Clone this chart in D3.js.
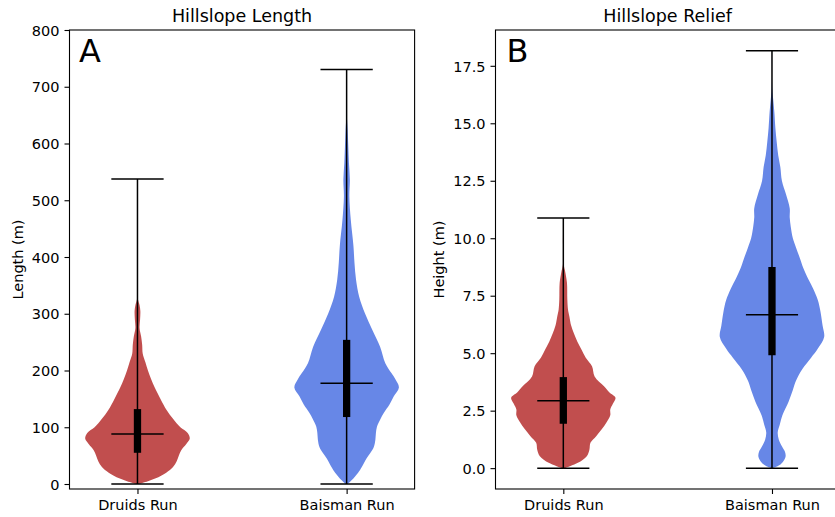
<!DOCTYPE html>
<html>
<head>
<meta charset="utf-8">
<script src="https://cdn.jsdelivr.net/npm/d3@7"></script>
<style>
  body { margin: 0; background: #fff; }
  svg { display: block; font-family: "DejaVu Sans", sans-serif; }
</style>
</head>
<body>
<svg id="chart"></svg>
<script>
// two violin panels
const groups = ["Druids Run", "Baisman Run"];
const colors = ["#c14e4e", "#6787e7"];

// [value, relative density]
const lengthDruids = [[0,0.02],[5,0.2],[10,0.35],[20,0.55],[30,0.68],[40,0.75],[50,0.79],[60,0.84],[70,0.93],[80,1.0],[90,0.96],[100,0.82],[115,0.68],[130,0.56],[150,0.44],[170,0.33],[185,0.26],[200,0.2],[215,0.15],[230,0.1],[245,0.09],[260,0.07],[275,0.04],[290,0.05],[305,0.055],[315,0.04],[325,0.01],[345,0.003],[537,0]];
const lengthBaisman = [[0,0.02],[7,0.1],[20,0.22],[30,0.29],[45,0.38],[54,0.45],[65,0.52],[78,0.55],[90,0.56],[101,0.58],[115,0.65],[125,0.71],[140,0.82],[154,0.9],[170,1.0],[185,0.93],[195,0.86],[213,0.74],[242,0.64],[272,0.49],[301,0.35],[330,0.24],[360,0.18],[390,0.15],[420,0.13],[465,0.08],[507,0.052],[536,0.062],[566,0.044],[595,0.032],[624,0.02],[650,0.005],[730,0]];
const reliefDruids = [[0,0.03],[0.23,0.28],[0.52,0.45],[0.8,0.5],[1.1,0.52],[1.39,0.63],[1.7,0.74],[2.0,0.83],[2.3,0.9],[2.55,0.9],[2.8,0.95],[3.06,1.0],[3.3,0.88],[3.56,0.78],[3.99,0.6],[4.43,0.55],[4.8,0.43],[5.15,0.35],[5.5,0.27],[5.88,0.2],[6.2,0.15],[6.6,0.116],[6.89,0.09],[7.33,0.077],[8.06,0.07],[8.5,0.04],[8.93,0.003],[10.88,0]];
const reliefBaisman = [[0,0.02],[0.1,0.12],[0.25,0.2],[0.5,0.26],[0.7,0.25],[0.95,0.19],[1.25,0.13],[1.55,0.11],[1.9,0.15],[2.3,0.2],[2.9,0.32],[3.4,0.4],[3.8,0.46],[4.3,0.58],[4.8,0.75],[5.2,0.88],[5.7,1.0],[6.2,0.97],[6.8,0.93],[7.3,0.88],[7.8,0.79],[8.2,0.7],[8.7,0.6],[9.1,0.54],[9.6,0.46],[10.0,0.4],[10.5,0.36],[10.9,0.34],[11.3,0.34],[11.9,0.27],[12.5,0.19],[13.1,0.16],[13.6,0.12],[14.2,0.09],[14.8,0.065],[15.5,0.045],[16.0,0.025],[16.5,0.005],[18.15,0]];

// summary stats per group: [Druids, Baisman]
const lengthMin = [0, 0];
const lengthQ1 = [55, 118];
const lengthMedian = [88, 177.6];
const lengthQ3 = [132, 254];
const lengthMax = [537.5, 730.3];

const reliefMin = [0, 0];
const reliefQ1 = [1.93, 4.91];
const reliefMedian = [2.93, 6.67];
const reliefQ3 = [3.96, 8.75];
const reliefMax = [10.88, 18.15];

const lengthTicks = [0, 100, 200, 300, 400, 500, 600, 700, 800];
const reliefTicks = [0, 2.5, 5, 7.5, 10, 12.5, 15, 17.5];

const width = 835;
const height = 517;
const plotTop = 30, plotBottom = 489;
const tickFont = 14.5;

const svg = d3.select("#chart")
    .attr("width", width)
    .attr("height", height);

function drawPanel(p) {
    const g = svg.append("g");
    const x = d3.scaleLinear().domain([0.675, 2.325]).range([p.left, p.right]);
    const y = d3.scaleLinear().domain(p.yDomain).range([plotBottom, plotTop]);

    // violin bodies
    p.violins.forEach((v, i) => {
        const pos = i + 1;
        const area = d3.area()
            .curve(d3.curveCatmullRom.alpha(0.5))
            .y(d => y(d[0]))
            .x0(d => x(pos - 0.25 * d[1]))
            .x1(d => x(pos + 0.25 * d[1]));
        g.append("path")
            .datum(v)
            .attr("d", area)
            .attr("fill", colors[i]);
    });

    // whiskers, caps, medians, quartile bars
    groups.forEach((name, i) => {
        const pos = i + 1;
        g.append("line")
            .attr("x1", x(pos)).attr("x2", x(pos))
            .attr("y1", y(p.min[i])).attr("y2", y(p.max[i]))
            .attr("stroke", "black").attr("stroke-width", 1.5);
        [p.min[i], p.max[i], p.median[i]].forEach(val => {
            g.append("line")
                .attr("x1", x(pos - 0.125)).attr("x2", x(pos + 0.125))
                .attr("y1", y(val)).attr("y2", y(val))
                .attr("stroke", "black").attr("stroke-width", 1.5);
        });
        g.append("line")
            .attr("x1", x(pos)).attr("x2", x(pos))
            .attr("y1", y(p.q1[i])).attr("y2", y(p.q3[i]))
            .attr("stroke", "black").attr("stroke-width", 7.3);
    });

    // frame
    g.append("rect")
        .attr("x", p.left).attr("y", plotTop)
        .attr("width", p.right - p.left).attr("height", plotBottom - plotTop)
        .attr("fill", "none").attr("stroke", "black").attr("stroke-width", 1.1);

    const yAxis = g.append("g")
        .attr("transform", `translate(${p.left},0)`)
        .call(d3.axisLeft(y).tickValues(p.ticks).tickSize(5).tickPadding(5).tickFormat(p.fmt));
    const xAxis = g.append("g")
        .attr("transform", `translate(0,${plotBottom})`)
        .call(d3.axisBottom(x).tickValues([1, 2]).tickSize(5).tickPadding(5).tickFormat((d, i) => groups[i]));
    [yAxis, xAxis].forEach(a => {
        a.select(".domain").remove();
        a.selectAll("line").attr("stroke", "black").attr("stroke-width", 1.1);
        a.selectAll("text").attr("font-size", tickFont).attr("fill", "black")
            .attr("font-family", "DejaVu Sans, sans-serif");
    });
    xAxis.selectAll("text").attr("dy", "0.78em");
    yAxis.selectAll("text").attr("dy", "0.36em");

    // titles and labels
    g.append("text")
        .attr("x", (p.left + p.right) / 2).attr("y", 21.5)
        .attr("text-anchor", "middle").attr("font-size", 17.5)
        .text(p.title);
    g.append("text")
        .attr("transform", `translate(${p.labelX},${(plotTop + plotBottom) / 2}) rotate(-90)`)
        .attr("text-anchor", "middle").attr("font-size", tickFont)
        .text(p.ylabel);
    g.append("text")
        .attr("x", p.left + p.letterDx).attr("y", 61.5)
        .attr("font-size", 32)
        .text(p.letter);
}

drawPanel({
    left: 69.5, right: 414.6,
    yDomain: [-8.8, 800],
    ticks: lengthTicks, fmt: d3.format("d"),
    violins: [lengthDruids, lengthBaisman],
    min: lengthMin, q1: lengthQ1, median: lengthMedian, q3: lengthQ3, max: lengthMax,
    title: "Hillslope Length", ylabel: "Length (m)", letter: "A",
    labelX: 23, letterDx: 9.5
});

drawPanel({
    left: 495.5, right: 839.8,
    yDomain: [-0.9075, 19.0575],
    ticks: reliefTicks, fmt: d3.format(".1f"),
    violins: [reliefDruids, reliefBaisman],
    min: reliefMin, q1: reliefQ1, median: reliefMedian, q3: reliefQ3, max: reliefMax,
    title: "Hillslope Relief", ylabel: "Height (m)", letter: "B",
    labelX: 444, letterDx: 11
});
</script>
</body>
</html>
